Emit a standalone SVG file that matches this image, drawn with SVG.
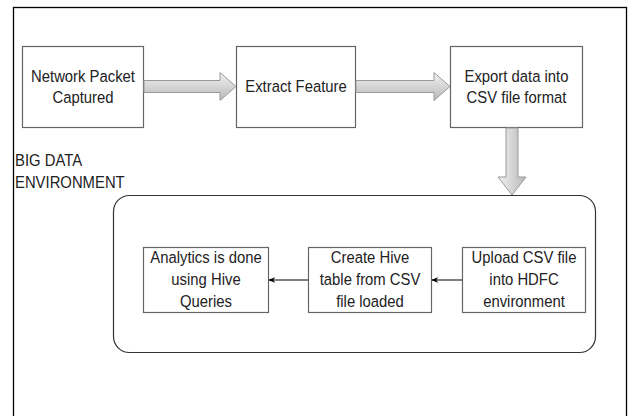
<svg xmlns="http://www.w3.org/2000/svg" width="638" height="416" viewBox="0 0 638 416">
<defs>
<linearGradient id="gh" x1="0" y1="0" x2="0" y2="1"><stop offset="0" stop-color="#f2f2f2"/><stop offset="1" stop-color="#b8b8b8"/></linearGradient>
<linearGradient id="gv" x1="0" y1="0" x2="1" y2="0"><stop offset="0" stop-color="#f2f2f2"/><stop offset="1" stop-color="#b8b8b8"/></linearGradient>
<marker id="ah" viewBox="0 0 10 10" refX="9" refY="5" markerWidth="7" markerHeight="7" orient="auto"><path d="M0,1 L10,5 L0,9 L3,5 Z" fill="#000"/></marker>
</defs>
<style>
.box{fill:#fff;stroke:#666;stroke-width:1.2}
.t{font-family:"Liberation Sans",Arial,sans-serif;font-size:16.5px;fill:#222;text-anchor:middle;transform-box:fill-box;transform-origin:center;transform:scaleX(0.9)}
.l{font-family:"Liberation Sans",Arial,sans-serif;font-size:16.5px;fill:#222;transform-box:fill-box;transform-origin:left;transform:scaleX(0.9)}
.blk{stroke:#999;stroke-width:1}
.thin{stroke:#000;stroke-width:1;fill:none}
</style>
<rect x="0" y="0" width="638" height="416" fill="#fff"/>
<rect x="13.5" y="7.5" width="613" height="420" fill="none" stroke="#000" stroke-width="1.3"/>
<text class="l" x="15" y="166">BIG DATA</text>
<text class="l" x="15" y="188">ENVIRONMENT</text>
<g id="env"><rect x="113.5" y="195.5" width="482" height="157" rx="16" fill="none" stroke="#333" stroke-width="1.2"/></g>
<g id="n1"><rect class="box" x="22.5" y="46.5" width="121" height="81"/><text class="t" x="83" y="82">Network Packet</text><text class="t" x="83" y="103">Captured</text></g>
<g id="n2"><rect class="box" x="236.5" y="46.5" width="119" height="81"/><text class="t" x="296" y="92">Extract Feature</text></g>
<g id="n3"><rect class="box" x="450.5" y="46.5" width="132" height="81"/><text class="t" x="516.5" y="82">Export data into</text><text class="t" x="516.5" y="103">CSV file format</text></g>
<g id="n4"><rect class="box" x="143.5" y="247.5" width="125" height="65"/><text class="t" x="206" y="263">Analytics is done</text><text class="t" x="206" y="285">using Hive</text><text class="t" x="206" y="307">Queries</text></g>
<g id="n5"><rect class="box" x="308.5" y="247.5" width="123" height="65"/><text class="t" x="370" y="263">Create Hive</text><text class="t" x="370" y="285">table from CSV</text><text class="t" x="370" y="307">file loaded</text></g>
<g id="n6"><rect class="box" x="462.5" y="247.5" width="123" height="65"/><text class="t" x="524" y="263">Upload CSV file</text><text class="t" x="524" y="285">into HDFC</text><text class="t" x="524" y="307">environment</text></g>
<g id="connectors">
<path class="blk" fill="url(#gh)" d="M144,80.5 H220 V72.5 L236,86.5 L220,100.5 V92.5 H144 Z"/>
<path class="blk" fill="url(#gh)" d="M356,80.5 H434 V72.5 L450,86.5 L434,100.5 V92.5 H356 Z"/>
<path class="blk" fill="url(#gv)" d="M506,128 V177 H498 L512,195 L526,177 H518 V128 Z"/>
<line class="thin" x1="462" y1="280" x2="432" y2="280" marker-end="url(#ah)"/>
<line class="thin" x1="308" y1="280" x2="269" y2="280" marker-end="url(#ah)"/>
</g>
</svg>
